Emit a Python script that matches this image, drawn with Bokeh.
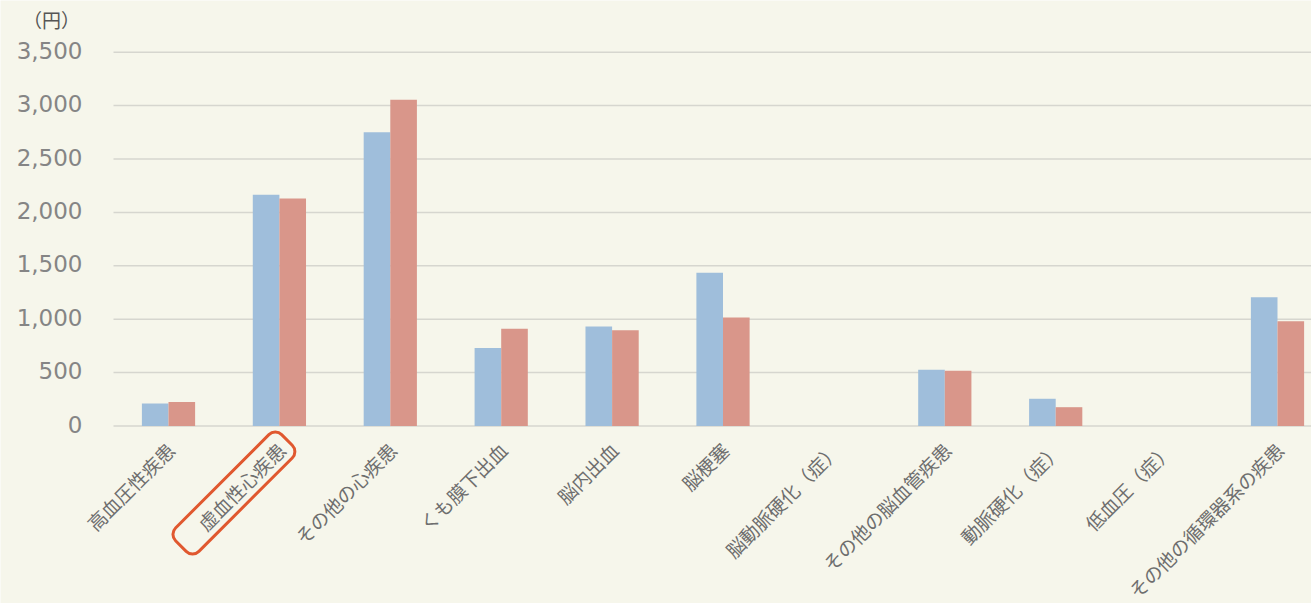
import numpy as np
from bokeh.plotting import figure
from bokeh.models import ColumnDataSource, Range1d, Rect
from bokeh.core.properties import value
from bokeh.transform import dodge
from bokeh.embed import file_html
from bokeh.resources import INLINE

# ---- data ----
categories = ["高血圧性疾患", "虚血性心疾患", "その他の心疾患", "くも膜下出血", "脳内出血", "脳梗塞",
              "脳動脈硬化（症）", "その他の脳血管疾患", "動脈硬化（症）", "低血圧（症）", "その他の循環器系の疾患"]
series_blue = [210, 2165, 2750, 730, 932, 1434, 0, 526, 255, 0, 1206]
series_red = [225, 2130, 3055, 910, 897, 1016, 0, 517, 176, 0, 981]
y_ticks = [0, 500, 1000, 1500, 2000, 2500, 3000, 3500]
y_tick_labels = ["0", "500", "1,000", "1,500", "2,000", "2,500", "3,000", "3,500"]
unit_label = "（円）"
highlight = "虚血性心疾患"

# ---- layout constants (pixels) ----
W, H = 1311, 603
GRID_LEFT = 113          # where the gridlines start
FIRST_CAT = 168          # pixel position of the first category
PX_PER_CAT = 110.9
PX_PER_UNIT = 0.1068
ZERO_Y = 425.5           # zero line distance from top
x_start = -FIRST_CAT / PX_PER_CAT
x_end = (W - FIRST_CAT) / PX_PER_CAT
y_end = ZERO_Y / PX_PER_UNIT
y_start = -(H - ZERO_Y) / PX_PER_UNIT
x_grid0 = (GRID_LEFT - FIRST_CAT) / PX_PER_CAT

BG = "#f6f6eb"
BLUE = "#9fbedb"
RED = "#d9968a"
GRID = "#d6d6cf"

idx = np.arange(len(categories))
src = ColumnDataSource(dict(x=idx, blue=series_blue, red=series_red))

p = figure(width=W, height=H, x_range=Range1d(x_start, x_end), y_range=Range1d(y_start, y_end),
           output_backend="svg", toolbar_location=None, x_axis_location=None, y_axis_location=None,
           min_border_left=0, min_border_right=0, min_border_top=0, min_border_bottom=0,
           background_fill_color=BG, border_fill_color=BG, outline_line_color=None)
p.grid.visible = False

# gridlines at the y ticks
p.segment(x0=[x_grid0] * len(y_ticks), x1=[x_end] * len(y_ticks), y0=y_ticks, y1=y_ticks,
          line_color=GRID, line_width=1.5)

# y tick labels
p.text(x=[x_grid0 - 31.0 / PX_PER_CAT] * len(y_ticks), y=y_ticks, text=y_tick_labels,
       text_align="right", text_baseline="middle", y_offset=-2,
       text_font=value("DejaVu Sans"), text_font_size="23px", text_color="#858585")

# unit label
p.text(x=[(51.0 - FIRST_CAT) / PX_PER_CAT], y=[(ZERO_Y - 19.0) / PX_PER_UNIT], text=[unit_label],
       text_align="center", text_baseline="middle",
       text_font=value("Noto Sans CJK JP"), text_font_size="19px", text_color="#555555")

# bars
p.vbar(x=dodge("x", -0.12, range=p.x_range), top="blue", width=0.24, source=src,
       fill_color=BLUE, line_color=None)
p.vbar(x=dodge("x", 0.12, range=p.x_range), top="red", width=0.24, source=src,
       fill_color=RED, line_color=None)

# category labels (rotated), anchored under each category
lab_src = ColumnDataSource(dict(x=idx + 2.0 / PX_PER_CAT,
                                y=np.full(len(categories), -20.0 / PX_PER_UNIT),
                                text=categories))
p.text(x="x", y="y", text="text", source=lab_src, angle=np.pi / 4,
       text_align="right", text_baseline="middle",
       text_font=value("Noto Sans CJK JP"), text_font_size="19px", text_color="#6e6e6e")

# highlight box around one label
hi = categories.index(highlight)
box_kwargs = dict(x=[hi + (233.5 - 279.0) / PX_PER_CAT], y=[-67.0 / PX_PER_UNIT],
                  width=150, height=33, width_units="screen", height_units="screen",
                  angle=np.pi / 4, fill_color=None, line_color="#e0582f", line_width=3)
if "border_radius" in Rect.properties():
    box_kwargs["border_radius"] = 9
p.rect(**box_kwargs)

open("out.html", "w").write(file_html(p, INLINE))
